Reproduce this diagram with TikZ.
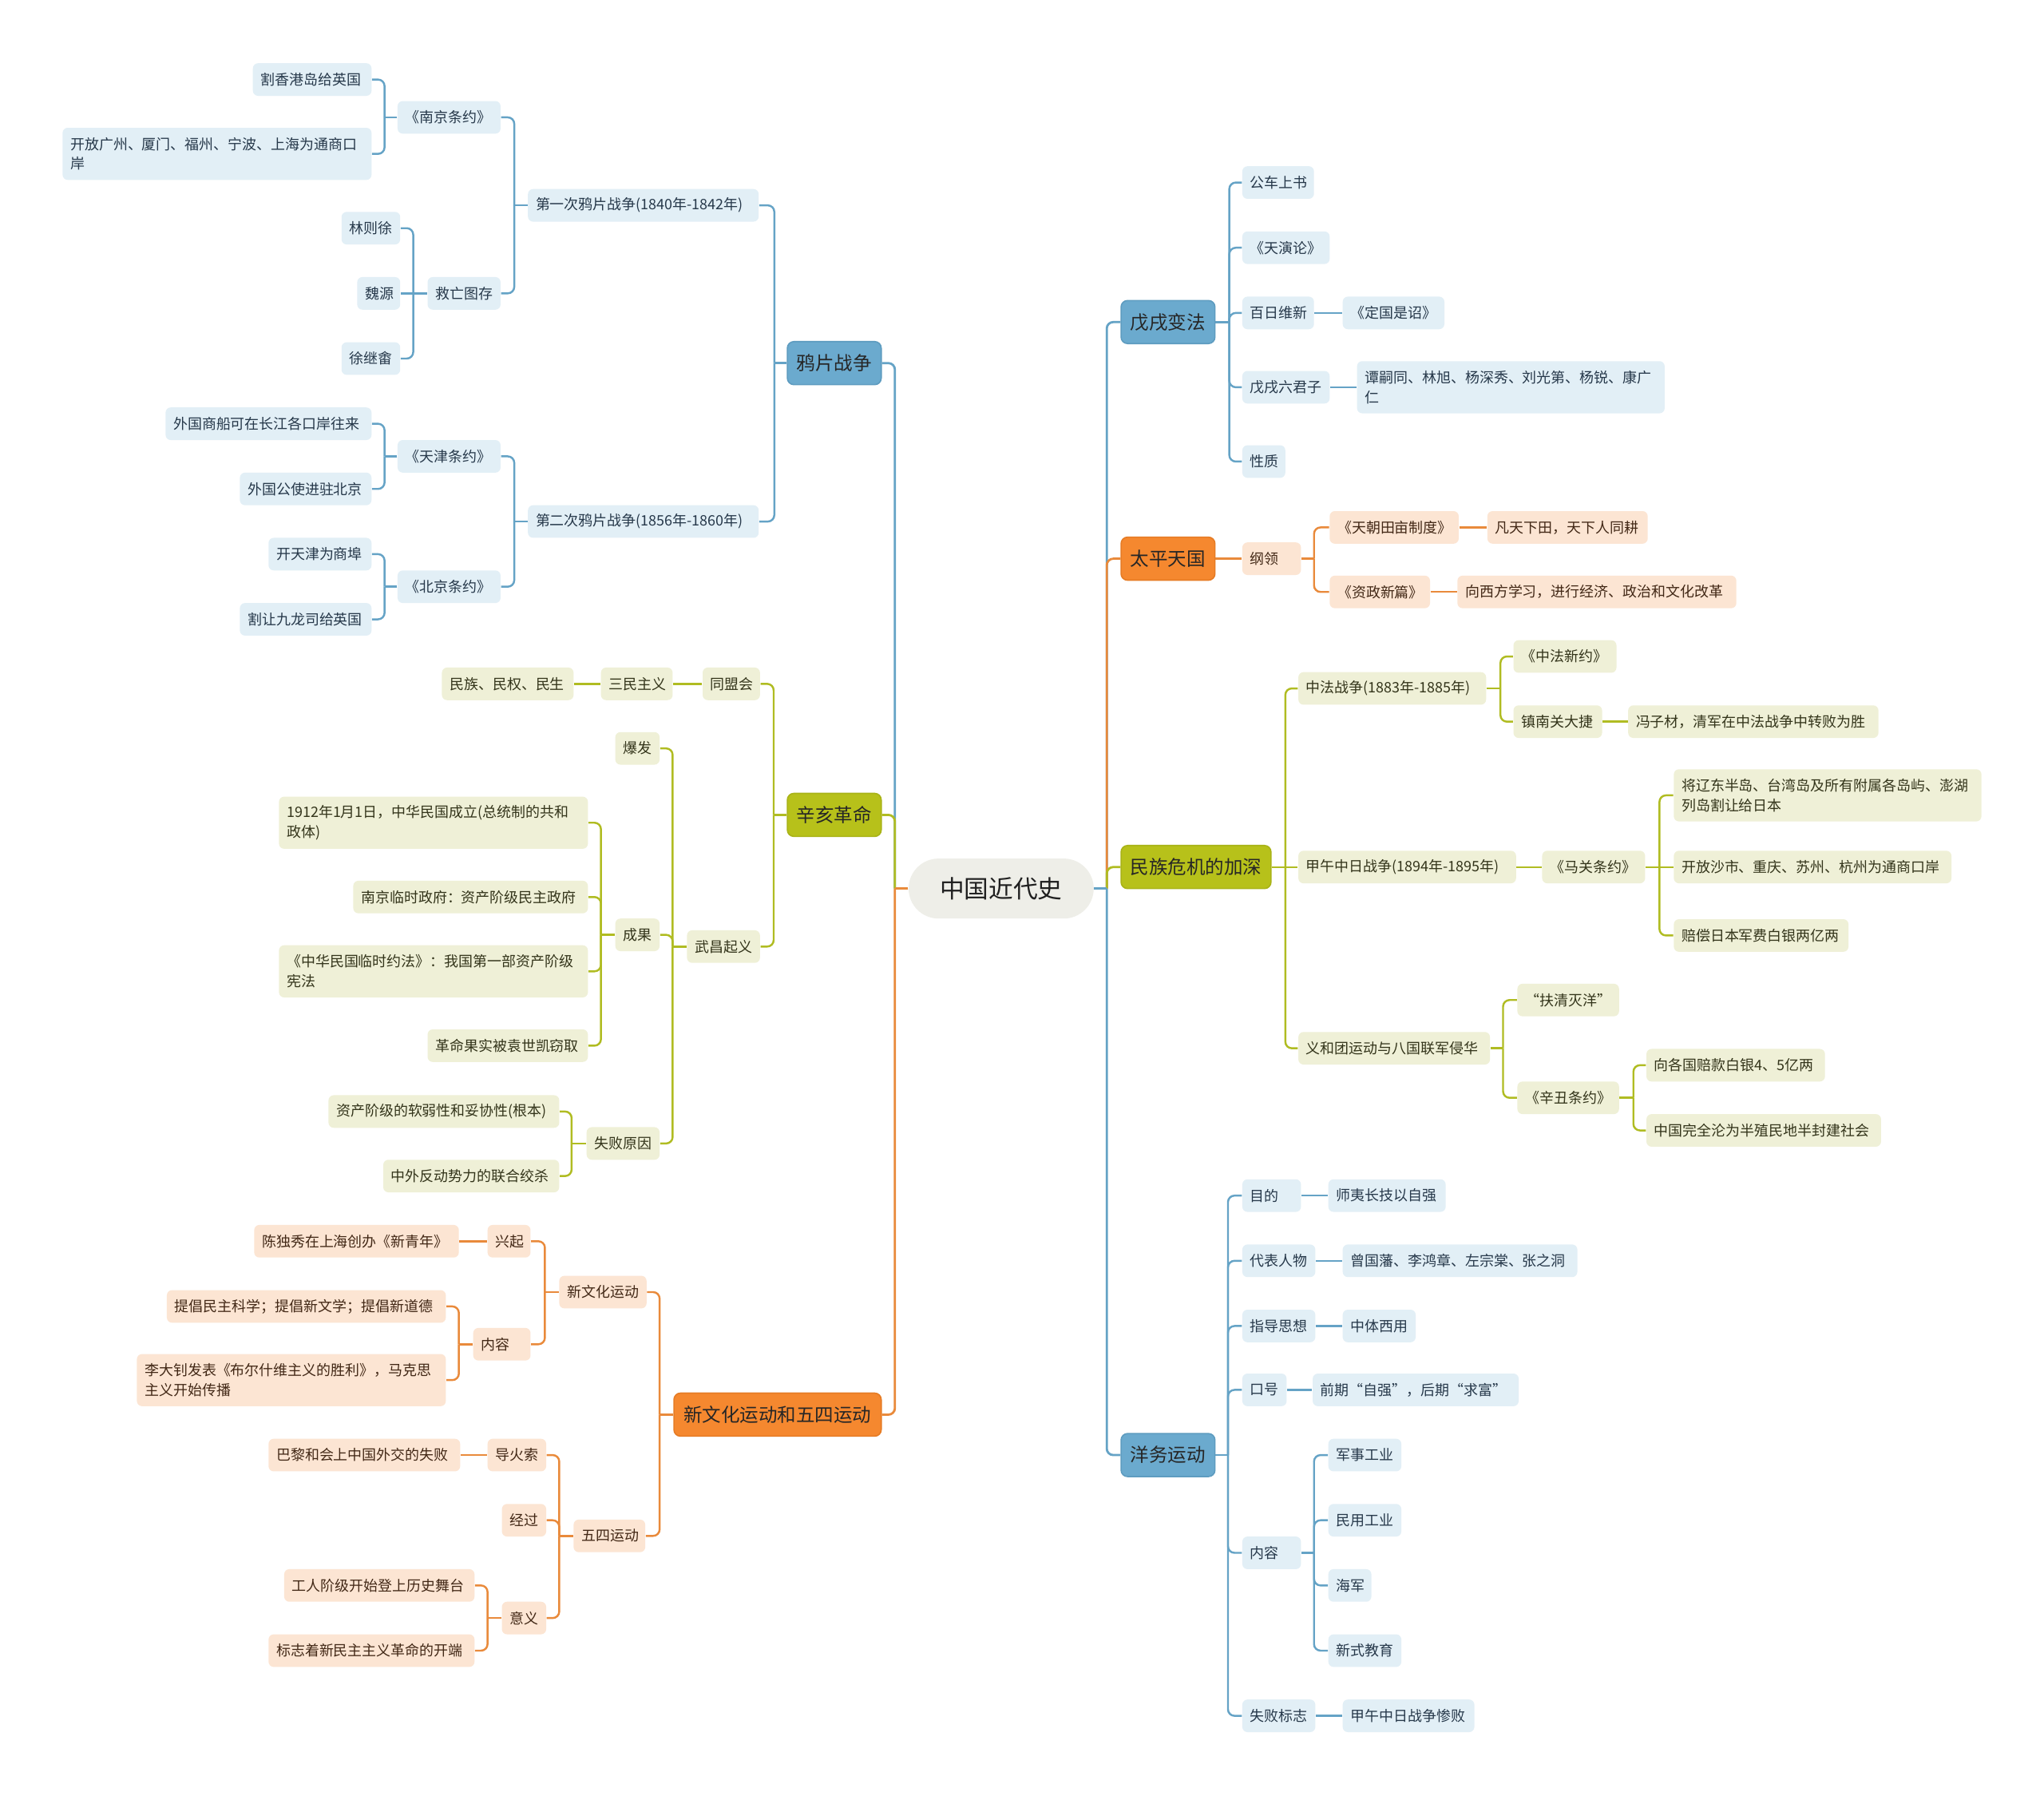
\documentclass[tikz,border=0pt]{standalone}
\usepackage{fontspec}
\setmainfont{Noto Sans CJK SC}
\usetikzlibrary{calc}
\definecolor{bMain}{HTML}{6BAACE}
\definecolor{bBord}{HTML}{5E9CC0}
\definecolor{bLeaf}{HTML}{E2EFF6}
\definecolor{bLine}{HTML}{65A3C6}
\definecolor{bText}{HTML}{26384A}
\definecolor{oMain}{HTML}{B7C11A}
\definecolor{oBord}{HTML}{A9B317}
\definecolor{oLeaf}{HTML}{EFF0D7}
\definecolor{oLine}{HTML}{B0BC22}
\definecolor{oText}{HTML}{33341A}
\definecolor{rMain}{HTML}{F5882F}
\definecolor{rBord}{HTML}{E67C25}
\definecolor{rLeaf}{HTML}{FCE5D3}
\definecolor{rLine}{HTML}{E98A3B}
\definecolor{rText}{HTML}{422816}
\definecolor{cFill}{HTML}{EEEEE8}
\pgfdeclarelayer{back}
\pgfdeclarelayer{lines}
\pgfsetlayers{back,lines,main}
\tikzset{
  leaf/.style={rounded corners=2pt, inner xsep=3pt, inner ysep=1pt, minimum height=12.5pt, align=left, font=\fontsize{5.5pt}{7.5pt}\selectfont},
  bleaf/.style={leaf, fill=bLeaf, text=bText},
  oleaf/.style={leaf, fill=oLeaf, text=oText},
  rleaf/.style={leaf, fill=rLeaf, text=rText},
  mainnode/.style={rounded corners=2.5pt, inner xsep=3pt, minimum height=16.5pt, align=center, line width=0.5pt, font=\fontsize{7.2pt}{9pt}\selectfont, text=black!85},
  bmain/.style={mainnode, fill=bMain, draw=bBord},
  omain/.style={mainnode, fill=oMain, draw=oBord},
  rmain/.style={mainnode, fill=rMain, draw=rBord},
  rootnode/.style={rounded corners=11.5pt, inner xsep=3pt, fill=cFill, minimum height=23pt, align=center, font=\fontsize{9.4pt}{11pt}\selectfont, text=black!88},
  bl/.style={draw=bLine, line width=0.75pt},
  ol/.style={draw=oLine, line width=0.75pt},
  rl/.style={draw=rLine, line width=0.75pt},
  bL/.style={draw=bLine, line width=0.85pt},
  oL/.style={draw=oLine, line width=0.85pt},
  rL/.style={draw=rLine, line width=0.85pt},
  two/.style={minimum height=20pt}
}
% node: style, name, x1, x2, y, text
\newcommand\mmnode[6]{%
  \pgfmathsetmacro\mmcx{(#3+#4)/2}%
  \pgfmathsetmacro\mmw{(#4-#3)*0.5}%
  \pgfmathsetmacro\mmtw{(#4-#3)*0.5-6}%
  \node[#1, minimum width=\mmw pt, text width=\mmtw pt] (#2) at (\mmcx,#5) {#6};}
% elbow connectors: style, parent, child, trunk x
\newcommand\cL[4]{%
  \draw[#1] (#2.west) -- (#4,0 |- #2.west);
  \draw[#1, rounded corners=2.5pt] (#4,0 |- #2.west) |- (#3.east);}
\newcommand\cR[4]{%
  \draw[#1] (#2.east) -- (#4,0 |- #2.east);
  \draw[#1, rounded corners=2.5pt] (#4,0 |- #2.east) |- (#3.west);}
\newcommand\sL[3]{\draw[#1] (#2.west) -- (#3.east);}
\newcommand\sR[3]{\draw[#1] (#2.east) -- (#3.west);}
\begin{document}
\begin{tikzpicture}[x=0.5pt, y=-0.5pt]
\begin{pgfonlayer}{back}
\fill[white] (0,0) rectangle (1568,1377);
\end{pgfonlayer}
\useasboundingbox (0,0) rectangle (1568,1377);

% root
\mmnode{rootnode}{R}{697}{839}{681.5}{中国近代史}

% main branches
\mmnode{bmain}{A1}{604}{676}{278.5}{鸦片战争}
\mmnode{omain}{A2}{604}{676}{625}{辛亥革命}
\mmnode{rmain}{A3}{517}{676}{1085}{新文化运动和五四运动}
\mmnode{bmain}{B1}{860}{932}{247}{戊戌变法}
\mmnode{rmain}{B2}{860}{932}{428.5}{太平天国}
\mmnode{omain}{B3}{860}{975}{665}{民族危机的加深}
\mmnode{bmain}{B4}{860}{932}{1116}{洋务运动}

% ---- 鸦片战争
\mmnode{bleaf}{a1}{405}{582}{157.5}{第一次鸦片战争(1840年-1842年)}
\mmnode{bleaf}{a2}{405}{582}{400}{第二次鸦片战争(1856年-1860年)}
\mmnode{bleaf}{a11}{305}{384}{90}{《南京条约》}
\mmnode{bleaf}{a12}{328}{384}{225}{救亡图存}
\mmnode{bleaf}{a111}{194}{285}{61}{割香港岛给英国}
\mmnode{bleaf,two}{a112}{48}{285}{118}{开放广州、厦门、福州、宁波、上海为通商口\\岸}
\mmnode{bleaf}{a121}{262}{307}{175}{林则徐}
\mmnode{bleaf}{a122}{274}{307}{225}{魏源}
\mmnode{bleaf}{a123}{262}{307}{275}{徐继畬}
\mmnode{bleaf}{a21}{305}{384}{350}{《天津条约》}
\mmnode{bleaf}{a22}{305}{384}{450}{《北京条约》}
\mmnode{bleaf}{a211}{127}{285}{325}{外国商船可在长江各口岸往来}
\mmnode{bleaf}{a212}{184}{285}{375}{外国公使进驻北京}
\mmnode{bleaf}{a221}{206}{285}{425}{开天津为商埠}
\mmnode{bleaf}{a222}{184}{285}{475}{割让九龙司给英国}

% ---- 辛亥革命
\mmnode{oleaf}{b1}{539}{583}{524.5}{同盟会}
\mmnode{oleaf}{b11}{461}{516}{524.5}{三民主义}
\mmnode{oleaf}{b111}{339}{440}{524.5}{民族、民权、民生}
\mmnode{oleaf}{b2}{527}{583}{726}{武昌起义}
\mmnode{oleaf}{b21}{472}{506}{574}{爆发}
\mmnode{oleaf}{b22}{472}{506}{717}{成果}
\mmnode{oleaf}{b23}{450}{506}{877}{失败原因}
\mmnode{oleaf,two}{b221}{214}{451}{631}{1912年1月1日，中华民国成立(总统制的共和\\政体)}
\mmnode{oleaf}{b222}{271}{451}{688}{南京临时政府：资产阶级民主政府}
\mmnode{oleaf,two}{b223}{214}{451}{745}{《中华民国临时约法》：我国第一部资产阶级\\宪法}
\mmnode{oleaf}{b224}{328}{451}{802}{革命果实被袁世凯窃取}
\mmnode{oleaf}{b231}{252}{429}{852.5}{资产阶级的软弱性和妥协性(根本)}
\mmnode{oleaf}{b232}{294}{429}{902}{中外反动势力的联合绞杀}

% ---- 新文化运动和五四运动
\mmnode{rleaf}{c1}{429}{496}{991}{新文化运动}
\mmnode{rleaf}{c2}{440}{495}{1178}{五四运动}
\mmnode{rleaf}{c11}{374}{407}{952}{兴起}
\mmnode{rleaf}{c12}{363}{407}{1031}{内容}
\mmnode{rleaf}{c111}{195}{352}{952}{陈独秀在上海创办《新青年》}
\mmnode{rleaf}{c121}{128}{342}{1002}{提倡民主科学；提倡新文学；提倡新道德}
\mmnode{rleaf,two}{c122}{105}{342}{1058.5}{李大钊发表《布尔什维主义的胜利》，马克思\\主义开始传播}
\mmnode{rleaf}{c21}{374}{419}{1116}{导火索}
\mmnode{rleaf}{c22}{385}{419}{1166}{经过}
\mmnode{rleaf}{c23}{385}{419}{1241}{意义}
\mmnode{rleaf}{c211}{206}{353}{1116}{巴黎和会上中国外交的失败}
\mmnode{rleaf}{c231}{218}{364}{1216}{工人阶级开始登上历史舞台}
\mmnode{rleaf}{c232}{206}{364}{1266}{标志着新民主主义革命的开端}

% ---- 戊戌变法
\mmnode{bleaf}{d1}{953}{1008}{140}{公车上书}
\mmnode{bleaf}{d2}{953}{1020}{190}{《天演论》}
\mmnode{bleaf}{d3}{953}{1008}{240}{百日维新}
\mmnode{bleaf}{d4}{953}{1020}{297}{戊戌六君子}
\mmnode{bleaf}{d5}{953}{986}{354}{性质}
\mmnode{bleaf}{d31}{1030}{1108}{240}{《定国是诏》}
\mmnode{bleaf,two}{d41}{1041}{1277}{297}{谭嗣同、林旭、杨深秀、刘光第、杨锐、康广\\仁}

% ---- 太平天国
\mmnode{rleaf}{e1}{953}{998}{428.5}{纲领}
\mmnode{rleaf}{e11}{1020}{1119}{404.5}{《天朝田亩制度》}
\mmnode{rleaf}{e12}{1020}{1097}{454}{《资政新篇》}
\mmnode{rleaf}{e111}{1141}{1264}{404.5}{凡天下田，天下人同耕}
\mmnode{rleaf}{e121}{1118}{1332}{454}{向西方学习，进行经济、政治和文化改革}

% ---- 民族危机的加深
\mmnode{oleaf}{f1}{996}{1140}{528}{中法战争(1883年-1885年)}
\mmnode{oleaf}{f2}{996}{1163}{665}{甲午中日战争(1894年-1895年)}
\mmnode{oleaf}{f3}{996}{1143}{804}{义和团运动与八国联军侵华}
\mmnode{oleaf}{f11}{1161}{1240}{503.5}{《中法新约》}
\mmnode{oleaf}{f12}{1161}{1229}{553.5}{镇南关大捷}
\mmnode{oleaf}{f121}{1249}{1441}{553.5}{冯子材，清军在中法战争中转败为胜}
\mmnode{oleaf}{f21}{1183}{1262}{665}{《马关条约》}
\mmnode{oleaf,two}{f211}{1284}{1520}{610}{将辽东半岛、台湾岛及所有附属各岛屿、澎湖\\列岛割让给日本}
\mmnode{oleaf}{f212}{1284}{1497}{665}{开放沙市、重庆、苏州、杭州为通商口岸}
\mmnode{oleaf}{f213}{1284}{1418}{717.5}{赔偿日本军费白银两亿两}
\mmnode{oleaf}{f31}{1164}{1242}{767}{“扶清灭洋”}
\mmnode{oleaf}{f32}{1164}{1242}{842}{《辛丑条约》}
\mmnode{oleaf}{f321}{1263}{1400}{817}{向各国赔款白银4、5亿两}
\mmnode{oleaf}{f322}{1263}{1443}{867}{中国完全沦为半殖民地半封建社会}

% ---- 洋务运动
\mmnode{bleaf}{g1}{953}{998}{917}{目的}
\mmnode{bleaf}{g2}{953}{1009}{967}{代表人物}
\mmnode{bleaf}{g3}{953}{1009}{1017}{指导思想}
\mmnode{bleaf}{g4}{953}{987}{1066}{口号}
\mmnode{bleaf}{g5}{953}{998}{1191}{内容}
\mmnode{bleaf}{g6}{953}{1009}{1316}{失败标志}
\mmnode{bleaf}{g11}{1019}{1109}{917}{师夷长技以自强}
\mmnode{bleaf}{g21}{1030}{1210}{967}{曾国藩、李鸿章、左宗棠、张之洞}
\mmnode{bleaf}{g31}{1030}{1086}{1017}{中体西用}
\mmnode{bleaf}{g41}{1007}{1165}{1066}{前期“自强”，后期“求富”}
\mmnode{bleaf}{g51}{1019}{1075}{1116}{军事工业}
\mmnode{bleaf}{g52}{1019}{1075}{1166}{民用工业}
\mmnode{bleaf}{g53}{1019}{1052}{1216}{海军}
\mmnode{bleaf}{g54}{1019}{1075}{1266}{新式教育}
\mmnode{bleaf}{g61}{1030}{1131}{1316}{甲午中日战争惨败}

\begin{pgfonlayer}{lines}
% root connectors
\cL{bL}{R}{A1}{686.5}
\cL{oL}{R}{A2}{686.5}
\cL{rL}{R}{A3}{686.5}
\cR{bL}{R}{B1}{849}
\cR{rL}{R}{B2}{849}
\cR{oL}{R}{B3}{849}
\cR{bL}{R}{B4}{849}
% 鸦片战争
\cL{bl}{A1}{a1}{594}
\cL{bl}{A1}{a2}{594}
\cL{bl}{a1}{a11}{394.5}
\cL{bl}{a1}{a12}{394.5}
\cL{bl}{a11}{a111}{295}
\cL{bl}{a11}{a112}{295}
\cL{bl}{a12}{a121}{317}
\sL{bl}{a12}{a122}
\cL{bl}{a12}{a123}{317}
\cL{bl}{a2}{a21}{394.5}
\cL{bl}{a2}{a22}{394.5}
\cL{bl}{a21}{a211}{295}
\cL{bl}{a21}{a212}{295}
\cL{bl}{a22}{a221}{295}
\cL{bl}{a22}{a222}{295}
% 辛亥革命
\cL{ol}{A2}{b1}{593.5}
\cL{ol}{A2}{b2}{593.5}
\sL{ol}{b1}{b11}
\sL{ol}{b11}{b111}
\cL{ol}{b2}{b21}{516}
\cL{ol}{b2}{b22}{516}
\cL{ol}{b2}{b23}{516}
\cL{ol}{b22}{b221}{461}
\cL{ol}{b22}{b222}{461}
\cL{ol}{b22}{b223}{461}
\cL{ol}{b22}{b224}{461}
\cL{ol}{b23}{b231}{438.5}
\cL{ol}{b23}{b232}{438.5}
% 新文化运动和五四运动
\cL{rl}{A3}{c1}{506}
\cL{rl}{A3}{c2}{506}
\cL{rl}{c1}{c11}{418}
\cL{rl}{c1}{c12}{418}
\sL{rl}{c11}{c111}
\cL{rl}{c12}{c121}{352}
\cL{rl}{c12}{c122}{352}
\cL{rl}{c2}{c21}{429}
\cL{rl}{c2}{c22}{429}
\cL{rl}{c2}{c23}{429}
\sL{rl}{c21}{c211}
\cL{rl}{c23}{c231}{374}
\cL{rl}{c23}{c232}{374}
% 戊戌变法
\cR{bl}{B1}{d1}{943}
\cR{bl}{B1}{d2}{943}
\cR{bl}{B1}{d3}{943}
\cR{bl}{B1}{d4}{943}
\cR{bl}{B1}{d5}{943}
\sR{bl}{d3}{d31}
\sR{bl}{d4}{d41}
% 太平天国
\sR{rl}{B2}{e1}
\cR{rl}{e1}{e11}{1008}
\cR{rl}{e1}{e12}{1008}
\sR{rl}{e11}{e111}
\sR{rl}{e12}{e121}
% 民族危机的加深
\cR{ol}{B3}{f1}{986}
\sR{ol}{B3}{f2}
\cR{ol}{B3}{f3}{986}
\cR{ol}{f1}{f11}{1151}
\cR{ol}{f1}{f12}{1151}
\sR{ol}{f12}{f121}
\sR{ol}{f2}{f21}
\cR{ol}{f21}{f211}{1273}
\sR{ol}{f21}{f212}
\cR{ol}{f21}{f213}{1273}
\cR{ol}{f3}{f31}{1153}
\cR{ol}{f3}{f32}{1153}
\cR{ol}{f32}{f321}{1253}
\cR{ol}{f32}{f322}{1253}
% 洋务运动
\cR{bl}{B4}{g1}{942}
\cR{bl}{B4}{g2}{942}
\cR{bl}{B4}{g3}{942}
\cR{bl}{B4}{g4}{942}
\cR{bl}{B4}{g5}{942}
\cR{bl}{B4}{g6}{942}
\sR{bl}{g1}{g11}
\sR{bl}{g2}{g21}
\sR{bl}{g3}{g31}
\sR{bl}{g4}{g41}
\cR{bl}{g5}{g51}{1008}
\cR{bl}{g5}{g52}{1008}
\cR{bl}{g5}{g53}{1008}
\cR{bl}{g5}{g54}{1008}
\sR{bl}{g6}{g61}
\end{pgfonlayer}
\end{tikzpicture}
\end{document}
